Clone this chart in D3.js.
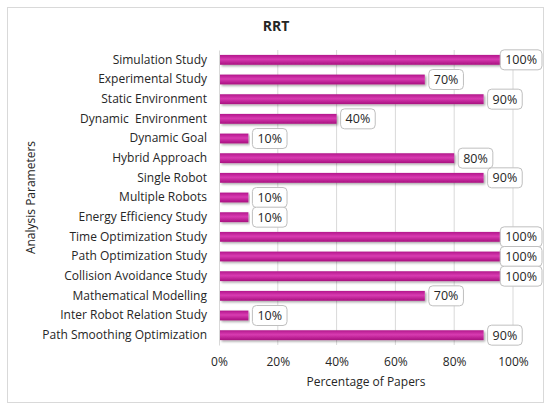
<!DOCTYPE html>
<html>
<head>
<meta charset="utf-8">
<script src="https://cdn.jsdelivr.net/npm/d3@7"></script>
<style>
	body { margin: 0; background: #fff; }
	text { font-family: "Open Sans", sans-serif; fill: #262626; }
</style>
</head>
<body>
<div id="chart"></div>
<script>
'use strict';

var categories = [
	"Simulation Study", "Experimental Study", "Static Environment",
	"Dynamic  Environment", "Dynamic Goal", "Hybrid Approach", "Single Robot",
	"Multiple Robots", "Energy Efficiency Study", "Time Optimization Study",
	"Path Optimization Study", "Collision Avoidance Study",
	"Mathematical Modelling", "Inter Robot Relation Study",
	"Path Smoothing Optimization"
];
var values = [1.0, 0.7, 0.9, 0.4, 0.1, 0.8, 0.9, 0.1, 0.1, 1.0, 1.0, 1.0, 0.7, 0.1, 0.9];
var ticks = [0, 0.2, 0.4, 0.6, 0.8, 1.0];

var width = 550, height = 410;
var margin = { top: 50, right: 37, bottom: 65, left: 219 };
var labelLimit = 542;

var svg = d3.select("#chart").append("svg")
	.attr("width", width)
	.attr("height", height);

// chart border
svg.append("rect")
	.attr("x", 7.5).attr("y", 7.5)
	.attr("width", 536).attr("height", 395)
	.attr("fill", "#fff")
	.attr("stroke", "#d9d9d9");

var defs = svg.append("defs");
var grad = defs.append("linearGradient")
	.attr("id", "barGrad")
	.attr("x1", 0).attr("y1", 0).attr("x2", 0).attr("y2", 1);
grad.append("stop").attr("offset", "0%").attr("stop-color", "#b3168c");
grad.append("stop").attr("offset", "45%").attr("stop-color", "#d83bb1");
grad.append("stop").attr("offset", "100%").attr("stop-color", "#a8107f");

var shadow = defs.append("filter").attr("id", "shadow")
	.attr("x", "-5%").attr("y", "-50%").attr("width", "110%").attr("height", "200%");
shadow.append("feDropShadow")
	.attr("dx", 1.5).attr("dy", 1.5)
	.attr("stdDeviation", 1)
	.attr("flood-color", "#000")
	.attr("flood-opacity", 0.35);

var x = d3.scaleLinear()
	.domain([0, 1])
	.range([margin.left, width - margin.right]);

var y = d3.scaleBand()
	.domain(categories)
	.range([margin.top, height - margin.bottom])
	.paddingInner(0.5)
	.paddingOuter(0.25);

// gridlines
svg.append("g")
	.selectAll("line")
	.data(ticks.slice(1))
	.enter()
	.append("line")
	.attr("x1", function (d) { return x(d); })
	.attr("x2", function (d) { return x(d); })
	.attr("y1", margin.top)
	.attr("y2", height - margin.bottom)
	.attr("stroke", "#d9d9d9");

// x axis
var xAxis = svg.append("g")
	.attr("transform", "translate(0," + (height - margin.bottom) + ")")
	.call(d3.axisBottom(x).tickValues(ticks).tickFormat(d3.format(".0%")).tickSize(0).tickPadding(12));
xAxis.select(".domain").remove();
xAxis.selectAll("text").attr("font-size", 12).attr("fill", "#404040");

// y axis
var yAxis = svg.append("g")
	.attr("transform", "translate(" + margin.left + ",0)")
	.call(d3.axisLeft(y).tickSize(0).tickPadding(12));
yAxis.select(".domain").attr("stroke", "#d9d9d9");
yAxis.selectAll("text").attr("font-size", 12).attr("fill", "#262626")
	.style("white-space", "pre");

// bars
svg.append("g")
	.selectAll("rect")
	.data(values)
	.enter()
	.append("rect")
	.attr("x", x(0) + 1)
	.attr("y", function (d, i) { return y(categories[i]); })
	.attr("width", function (d) { return x(d) - x(0) - 1; })
	.attr("height", y.bandwidth())
	.attr("fill", "url(#barGrad)")
	.attr("filter", "url(#shadow)");

// data labels
var labels = svg.append("g")
	.selectAll("g")
	.data(values)
	.enter()
	.append("g");

labels.append("text")
	.attr("class", "val")
	.attr("font-size", 12.5)
	.attr("dy", "0.35em")
	.attr("text-anchor", "middle")
	.text(function (d) { return d3.format(".0%")(d); });

labels.each(function (d, i) {
	var g = d3.select(this);
	var t = g.select("text");
	var w = t.node().getComputedTextLength() + 10;
	var h = 20;
	var bx = Math.min(x(d) + 4, labelLimit - w);
	var cy = y(categories[i]) + y.bandwidth() / 2;
	g.insert("rect", "text")
		.attr("x", bx).attr("y", cy - h / 2)
		.attr("width", w).attr("height", h)
		.attr("rx", 4)
		.attr("fill", "#fff")
		.attr("stroke", "#bfbfbf");
	t.attr("x", bx + w / 2).attr("y", cy);
});

// titles
svg.append("text")
	.attr("x", 276).attr("y", 31)
	.attr("text-anchor", "middle")
	.attr("font-size", 14)
	.attr("font-weight", "bold")
	.attr("fill", "#000")
	.text("RRT");

svg.append("text")
	.attr("x", x(0.5)).attr("y", 386)
	.attr("text-anchor", "middle")
	.attr("font-size", 12)
	.text("Percentage of Papers");

svg.append("text")
	.attr("transform", "translate(35," + ((margin.top + height - margin.bottom) / 2) + ") rotate(-90)")
	.attr("text-anchor", "middle")
	.attr("font-size", 12)
	.text("Analysis Parameters");
</script>
</body>
</html>
